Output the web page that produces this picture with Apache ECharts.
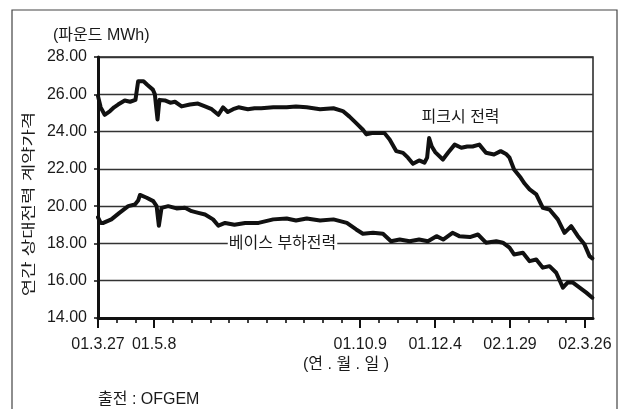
<!DOCTYPE html>
<html><head><meta charset="utf-8">
<script src="https://cdn.jsdelivr.net/npm/echarts@6/dist/echarts.min.js"></script>
<style>html,body{margin:0;padding:0;background:#fff}#c{width:621px;height:409px}</style>
</head><body><div id="c"></div><script>
// x values are days since 2001-03-27
const peakDays = [0,2,5,9,12,15,20,24,28,29,30,34,37,41,42.5,43.5,44.5,45.5,46,50,54,57.5,62.5,68.7,74.7,80,85,90,93.5,97,101,105,112,117,122,131,141,148,156,166,176,183,188,193,198,200.6,205.6,214,218,223,228,231.7,235.4,240,244,246,247.5,249.5,252,257.8,261.6,266.6,271.6,276,280,285,290,296,301,305,307.6,311,316,319,322.6,327.6,332.5,337.5,343.7,348.7,353.7,358.6,363.6,367.4,369.5];
const peakValues = [25.9,25.3,24.9,25.1,25.3,25.45,25.67,25.6,25.7,26.2,26.7,26.7,26.5,26.25,26.0,25.3,24.65,25.4,25.7,25.67,25.55,25.6,25.35,25.45,25.5,25.35,25.2,24.9,25.3,25.05,25.2,25.3,25.2,25.25,25.25,25.3,25.3,25.35,25.3,25.2,25.25,25.1,24.8,24.45,24.1,23.85,23.93,23.93,23.57,22.95,22.86,22.6,22.27,22.45,22.33,22.6,23.65,23.2,22.9,22.5,22.86,23.3,23.13,23.2,23.2,23.3,22.86,22.77,22.95,22.8,22.6,21.97,21.52,21.2,20.9,20.63,19.91,19.82,19.29,18.57,18.93,18.4,17.95,17.32,17.2];
const baseDays = [0,2,4,10,16,22.6,27.6,30,31.4,36.4,41.3,43.8,45.5,47.5,52.5,58.7,65,70,75,80,86,90,95,102,110,120,131,141,148,156,166,176,186,193,198,205.6,213,219,225.5,233,240,246.6,253,258,265,270,278,284,290,297.7,302.6,307.6,311,317.6,322.6,327.6,332.5,337.5,342.5,347.5,351,355,360,365,369.5];
const baseValues = [19.4,19.1,19.1,19.29,19.64,20.0,20.09,20.3,20.6,20.45,20.27,20.0,18.95,19.91,20.0,19.88,19.91,19.73,19.64,19.55,19.29,18.95,19.1,19.0,19.1,19.1,19.29,19.34,19.23,19.34,19.23,19.29,19.1,18.75,18.52,18.57,18.52,18.12,18.21,18.12,18.21,18.12,18.39,18.21,18.57,18.39,18.34,18.48,18.04,18.12,18.04,17.77,17.41,17.5,17.05,17.14,16.7,16.78,16.43,15.63,15.9,15.9,15.63,15.36,15.09];
const tickDays = [0,14,28,42,56,70,84,98,112,126,140,154,168,182,196,210,224,238,252,266,280,294,308,322,336,350,364];
const labelDays = [0,42,196,252,308,364];
const labelTexts = ['01.3.27','01.5.8','01.10.9','01.12.4','02.1.29','02.3.26'];
const yMin = 14, yMax = 28, yStep = 2;
const seriesNames = ['피크시 전력','베이스 부하전력'];

const F = "'Liberation Sans', 'Noto Sans CJK KR', sans-serif";
const zip = (a,b) => a.map((d,i)=>[d,b[i]]);

const chart = echarts.init(document.getElementById('c'), null, {renderer:'canvas'});
const lineStyle = {color:'#111', width:4, join:'round', cap:'round'};
chart.setOption({
  animation:false,
  backgroundColor:'#fff',
  grid:{left:98, top:57, width:495, height:261, show:true, borderColor:'#222', borderWidth:1.5, backgroundColor:'transparent'},
  xAxis:[
    {type:'value', min:0, max:370, position:'bottom',
     axisLine:{show:true, onZero:false, lineStyle:{color:'#111', width:3}},
     axisTick:{show:true, customValues:tickDays, length:5, lineStyle:{color:'#111', width:1.6}},
     axisLabel:{show:true, customValues:labelDays, formatter:v=>labelTexts[labelDays.indexOf(v)]||'', margin:19, fontSize:16, color:'#1a1a1a', fontFamily:F},
     splitLine:{show:false}},
    {type:'value', min:0, max:370, position:'bottom',
     axisLine:{show:false},
     axisTick:{show:true, customValues:labelDays, length:10, lineStyle:{color:'#111', width:2}},
     axisLabel:{show:false}, splitLine:{show:false}}
  ],
  yAxis:{type:'value', min:yMin, max:yMax, interval:yStep,
     axisLine:{show:true, lineStyle:{color:'#111', width:3}},
     axisTick:{show:true, length:4, lineStyle:{color:'#111', width:1.5}},
     axisLabel:{formatter:v=>v.toFixed(2), fontSize:16, margin:11, color:'#1a1a1a', fontFamily:F},
     splitLine:{show:true, lineStyle:{color:'#333', width:1.3}}},
  series:[
    {name:seriesNames[0], type:'line', data:zip(peakDays,peakValues), showSymbol:false, symbol:'none', lineStyle:lineStyle, z:5},
    {name:seriesNames[1], type:'line', data:zip(baseDays,baseValues), showSymbol:false, symbol:'none', lineStyle:lineStyle, z:5}
  ]
});

const p1 = chart.convertToPixel({gridIndex:0}, [271, 24.76]);
const p2 = chart.convertToPixel({gridIndex:0}, [97, 18]);
const txt = (o) => Object.assign({type:'text', silent:true, z:100}, o);
chart.setOption({graphic:[
  {type:'rect', silent:true, z:0, shape:{x:12, y:10, width:605, height:430}, style:{fill:'none', stroke:'#444', lineWidth:1.2}},
  txt({x:53, y:36, style:{text:'(파운드 MWh)', fontSize:16, fontFamily:F, fill:'#1a1a1a', textAlign:'left', textVerticalAlign:'middle', align:'left', verticalAlign:'middle'}}),
  txt({x:29, y:204, rotation:Math.PI/2, scaleX:1.35, style:{text:'연간 상대전력 계약가격', fontSize:14, fontFamily:F, fill:'#1a1a1a', textAlign:'center', textVerticalAlign:'middle', align:'center', verticalAlign:'middle'}}),
  txt({x:346, y:365, style:{text:'(연 . 월 . 일 )', fontSize:16, fontFamily:F, fill:'#1a1a1a', textAlign:'center', textVerticalAlign:'middle', align:'center', verticalAlign:'middle'}}),
  txt({x:98, y:400, style:{text:'출전 : OFGEM', fontSize:16, fontFamily:F, fill:'#1a1a1a', textAlign:'left', textVerticalAlign:'middle', align:'left', verticalAlign:'middle'}}),
  txt({x:p1[0], y:p1[1], style:{text:seriesNames[0], fontSize:16, fontFamily:F, fill:'#1a1a1a', textAlign:'center', textVerticalAlign:'middle', align:'center', verticalAlign:'middle'}}),
  txt({x:p2[0], y:p2[1], style:{text:seriesNames[1], fontSize:16, fontFamily:F, fill:'#1a1a1a', backgroundColor:'#fff', padding:[0,1], textAlign:'left', textVerticalAlign:'middle', align:'left', verticalAlign:'middle'}})
]});
</script></body></html>
